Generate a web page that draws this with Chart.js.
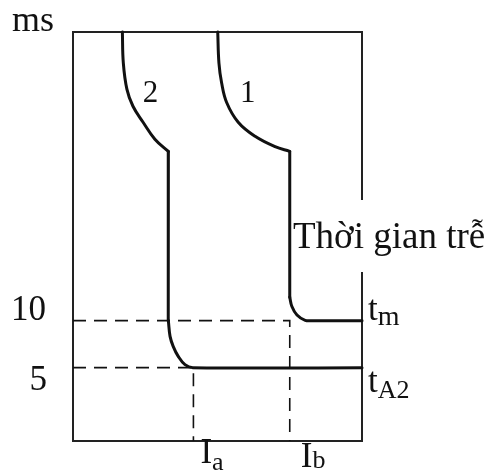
<!DOCTYPE html>
<html>
<head>
<meta charset="utf-8">
<script src="https://cdn.jsdelivr.net/npm/chart.js@4.4.1/dist/chart.umd.min.js"></script>
<style>
  html, body { margin: 0; padding: 0; background: #fff; }
  #wrap { width: 489px; height: 472px; position: relative; }
</style>
</head>
<body>
<div id="wrap"><canvas id="chartCanva"></canvas></div>
<script>
// trip curves, current on x (relative units), time on y (ms)
var curve1X = [6.01, 6.06, 6.17, 6.38, 6.86, 7.56, 8.39, 9.0, 9.0, 9.09, 9.3, 9.64, 9.97, 12];
var curve1Y = [40.7, 37.4, 35.3, 33.2, 31.1, 29.6, 28.5, 28.0, 12.5, 11.5, 10.6, 10.03, 10, 10];
var curve2X = [2.05, 2.09, 2.24, 2.49, 2.91, 3.40, 3.96, 3.95, 3.96, 4.03, 4.16, 4.37, 4.65, 4.98, 12];
var curve2Y = [40.7, 37.4, 34.6, 32.8, 31.1, 29.3, 28.0, 18, 10, 8.33, 7.27, 6.2, 5.32, 5.0, 5.0];
// where each curve turns from the arc into the straight drop, and back
var curve1Breaks = [7, 8];
var curve2Breaks = [6, 8];

var tickValues = [10, 5];
var tickLabels = ['10', '5'];
var tM = 10, tA2 = 5;
var Ia = 5, Ib = 9;
var xMin = 0, xMax = 12, yMin = -2.8, yMax = 40.7;

function pts(xs, ys) {
    return xs.map(function (x, i) { return { x: x, y: ys[i] }; });
}

var serif = '"Liberation Serif", "Times New Roman", serif';

// frame, labels and the subscripted names
var decor = {
    id: 'decor',
    beforeDatasetsDraw: function (chart) {
        var c = chart.ctx, a = chart.chartArea;
        c.save();
        c.strokeStyle = '#222';
        c.lineWidth = 2;
        c.strokeRect(a.left, a.top, a.right - a.left, a.bottom - a.top);
        c.restore();
    },
    afterDatasetsDraw: function (chart) {
        var c = chart.ctx, a = chart.chartArea;
        var xs = chart.scales.x, ys = chart.scales.y;
        c.save();
        c.fillStyle = '#111';
        c.textBaseline = 'alphabetic';

        c.font = '36px ' + serif;
        c.textAlign = 'left';
        c.fillText('ms', 12, 31);

        // y tick labels
        c.font = '35px ' + serif;
        c.textAlign = 'right';
        c.fillText(tickLabels[0], 46, ys.getPixelForValue(tickValues[0]) - 1);
        c.fillText(tickLabels[1], 47, ys.getPixelForValue(tickValues[1]) + 22);

        // curve numbers
        c.textAlign = 'left';
        c.font = '31px ' + serif;
        c.fillText('2', xs.getPixelForValue(2.9), ys.getPixelForValue(33.3));
        c.fillText('1', xs.getPixelForValue(6.93), ys.getPixelForValue(33.3));

        // delay caption sits over the right edge
        c.font = '37px ' + serif;
        var cap = 'Thời gian trễ';
        var w = c.measureText(cap).width;
        c.fillStyle = '#fff';
        c.fillRect(292, 200, w + 4, 72);
        c.fillStyle = '#111';
        c.fillText(cap, 293, 248);

        function sub(main, s, x, y, dy, size) {
            c.font = '35px ' + serif;
            c.fillText(main, x, y);
            var mw = c.measureText(main).width;
            c.font = size + 'px ' + serif;
            c.fillText(s, x + mw, y + dy);
        }
        var rx = a.right + 6;
        sub('t', 'm', rx, ys.getPixelForValue(tM) - 1, 5, 28);
        sub('t', 'A2', rx, ys.getPixelForValue(tA2) + 24, 6, 26);
        sub('I', 'a', xs.getPixelForValue(Ia) + 7, 463, 7, 26);
        sub('I', 'b', xs.getPixelForValue(Ib) + 11, 467, 1, 26);
        c.restore();
    }
};

var dashed = { borderColor: '#111', borderWidth: 1.6, borderDash: [13, 8], pointRadius: 0, fill: false, tension: 0, clip: false };
var solid = { borderColor: '#111', borderWidth: 3, pointRadius: 0, fill: false, clip: false, borderJoinStyle: 'round', borderCapStyle: 'round' };

// arc / straight drop / arc, so the bends stay sharp while the arcs stay round
function curvePieces(xs, ys, breaks) {
    var p = pts(xs, ys);
    return [
        Object.assign({ data: p.slice(0, breaks[0] + 1), tension: 0.4 }, solid),
        Object.assign({ data: p.slice(breaks[0], breaks[1] + 1), tension: 0 }, solid),
        Object.assign({ data: p.slice(breaks[1]), tension: 0.4 }, solid)
    ];
}

var config = {
    type: 'line',
    data: {
        datasets: [
            Object.assign({ data: [{ x: xMin, y: tM }, { x: Ib, y: tM }, { x: Ib, y: yMin }] }, dashed),
            Object.assign({ data: [{ x: xMin, y: tA2 }, { x: Ia, y: tA2 }, { x: Ia, y: yMin }] }, dashed)
        ].concat(curvePieces(curve1X, curve1Y, curve1Breaks), curvePieces(curve2X, curve2Y, curve2Breaks))
    },
    options: {
        responsive: true,
        maintainAspectRatio: false,
        animation: false,
        layout: { padding: { left: 73, top: 32, right: 127, bottom: 31 } },
        plugins: { legend: { display: false }, tooltip: { enabled: false } },
        scales: {
            x: { type: 'linear', min: xMin, max: xMax, display: false },
            y: { type: 'linear', min: yMin, max: yMax, display: false }
        }
    },
    plugins: [decor]
};

new Chart(document.getElementById('chartCanva'), config);
</script>
</body>
</html>
